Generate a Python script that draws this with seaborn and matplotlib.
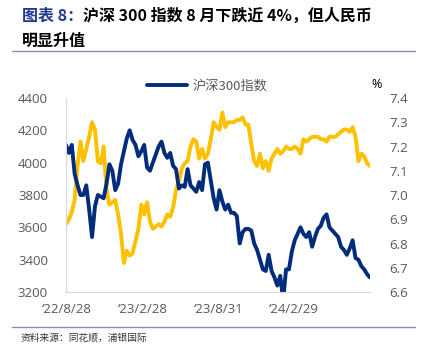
import numpy as np
import pandas as pd
import matplotlib
matplotlib.use('Agg')
import matplotlib.pyplot as plt
import matplotlib.dates as mdates
from matplotlib.lines import Line2D
import seaborn as sns

# weekly closes (Fridays)
start_date = '2022-08-26'
end_date = '2024-08-30'

csi300 = [
    # 2022
    4110, 4060, 4110, 3930, 3860, 3800, 3800, 3860, 3710, 3540,
    3730, 3800, 3790, 3780, 3870, 3990, 3950, 3830, 3870,
    # 2023
    3990, 4070, 4150, 4200, 4140, 4110, 4040, 4070, 4110, 3970,
    3950, 4000, 4050, 4100, 4130, 4060, 4030, 4060, 3980, 3960,
    3840, 3860, 3850, 3960, 3860, 3840, 3820, 3880, 3830, 3990,
    4000, 3890, 3780, 3710, 3830, 3760, 3710, 3740, 3690, 3690,
    3670, 3500, 3570, 3590, 3590, 3580, 3500, 3460, 3400, 3340,
    3330, 3430,
    # 2024
    3330, 3290, 3240, 3300, 3150, 3340, 3340, 3450, 3520, 3560,
    3600, 3560, 3540, 3570, 3480, 3540, 3590, 3610, 3660, 3680,
    3600, 3580, 3560, 3540, 3480, 3460, 3430, 3470, 3520, 3410,
    3400, 3360, 3340, 3310, 3290,
]

usdcny = [
    # 2022
    6.88, 6.90, 6.93, 6.98, 7.12, 7.22, 7.14, 7.19, 7.24, 7.30,
    7.27, 7.14, 7.13, 7.20, 7.02, 6.96, 6.97, 6.98, 6.92,
    # 2023
    6.84, 6.72, 6.77, 6.75, 6.76, 6.81, 6.86, 6.96, 6.92, 6.97,
    6.89, 6.86, 6.87, 6.88, 6.87, 6.89, 6.92, 6.91, 6.95, 7.02,
    7.06, 7.11, 7.13, 7.14, 7.20, 7.23, 7.22, 7.15, 7.19, 7.15,
    7.17, 7.23, 7.30, 7.28, 7.27, 7.34, 7.28, 7.30, 7.30, 7.30,
    7.31, 7.31, 7.32, 7.29, 7.29, 7.21, 7.14, 7.12, 7.17, 7.11,
    7.14, 7.10,
    # 2024
    7.15, 7.17, 7.19, 7.17, 7.18, 7.20, 7.19, 7.19, 7.20, 7.19,
    7.17, 7.23, 7.22, 7.23, 7.24, 7.24, 7.24, 7.23, 7.23, 7.22,
    7.24, 7.24, 7.24, 7.25, 7.26, 7.27, 7.27, 7.26, 7.28, 7.24,
    7.14, 7.17, 7.16, 7.13, 7.12,
]

tick_dates = ['2022-08-28', '2023-02-28', '2023-08-31', '2024-02-29']
tick_labels = ['\u201822/8/28', '\u201823/2/28', '\u201823/8/31', '\u201824/2/29']

left_ticks = [3200, 3400, 3600, 3800, 4000, 4200, 4400]
right_ticks = [6.6, 6.7, 6.8, 6.9, 7.0, 7.1, 7.2, 7.3, 7.4]

NAVY = '#002C7C'
GOLD = '#FFC000'
GREY = '#595959'
RULE = '#8C8CBA'
LW = 2.8

dates = pd.date_range(start_date, end_date, freq='W-FRI')
df = pd.DataFrame({'date': dates, 'csi300': csi300, 'usdcny': usdcny})

sns.set_style('white')
plt.rcParams['font.family'] = ['Noto Sans CJK SC', 'DejaVu Sans']

fig = plt.figure(figsize=(4.23, 3.57), dpi=100)
ax = fig.add_axes([66 / 423, 1 - 292 / 357, (370 - 66) / 423, (292 - 98) / 357])
ax2 = ax.twinx()

sns.lineplot(data=df, x='date', y='usdcny', ax=ax2, color=GOLD, linewidth=LW)
sns.lineplot(data=df, x='date', y='csi300', ax=ax, color=NAVY, linewidth=LW)
ax.set_zorder(ax2.get_zorder() + 1)
ax.patch.set_visible(False)

ax.set_ylim(3200, 4400)
ax2.set_ylim(6.6, 7.4)
ax.set_xlim(pd.Timestamp(start_date), pd.Timestamp(end_date))
ax.set_yticks(left_ticks)
ax2.set_yticks(right_ticks)
ax2.set_yticklabels([f'{v:.1f}' for v in right_ticks])
ax.set_xticks(pd.to_datetime(tick_dates))
ax.set_xticklabels(tick_labels)
ax.set_xlabel('')
ax.set_ylabel('')
ax2.set_ylabel('')

for a in (ax, ax2):
    for s in a.spines.values():
        s.set_visible(False)
ax.spines['left'].set_visible(True)
ax.spines['bottom'].set_visible(True)
ax.spines['left'].set_color('#D9D9D9')
ax.spines['bottom'].set_color('#D9D9D9')

tick_font = {'family': ['Open Sans', 'DejaVu Sans'], 'size': 9.5}
ax.tick_params(axis='y', length=0, pad=13, labelcolor=GREY)
ax.tick_params(axis='x', length=0, pad=8, labelcolor=GREY)
ax2.tick_params(axis='y', length=0, pad=14, labelcolor=GREY)
for lab in ax.get_xticklabels() + ax.get_yticklabels() + ax2.get_yticklabels():
    lab.set_fontfamily(tick_font['family'])
    lab.set_fontsize(tick_font['size'])

# legend (only the index entry is shown in the source)
handle = Line2D([], [], color=NAVY, linewidth=LW)
fig.legend([handle], ['沪深300指数'], loc='center', bbox_to_anchor=(0.49, 0.759),
           frameon=False, handlelength=3.0, handletextpad=0.4,
           prop={'family': ['Noto Sans CJK SC'], 'size': 9.5}, labelcolor=GREY)
fig.text(377 / 423, 1 - 84 / 357, '%', ha='center', va='center', fontsize=9,
         family=['Open Sans', 'DejaVu Sans'], color='black')

# title
t1 = fig.text(22 / 423, 1 - 16 / 357, '图表 8：', ha='left', va='center',
              fontsize=11.5, fontweight='bold', color='#1F3A8F')
fig.canvas.draw()
bb = t1.get_window_extent()
fig.text(bb.x1 / 423, 1 - 16 / 357, '沪深 300 指数 8 月下跌近 4%，但人民币', ha='left', va='center',
         fontsize=11.5, fontweight='bold', color='black')
fig.text(22 / 423, 1 - 41 / 357, '明显升值', ha='left', va='center',
         fontsize=11.5, fontweight='bold', color='black')

fig.add_artist(Line2D([12 / 423, 415 / 423], [1 - 51 / 357, 1 - 51 / 357],
                      color=RULE, linewidth=1.0, transform=fig.transFigure))
fig.add_artist(Line2D([12 / 423, 415 / 423], [1 - 327 / 357, 1 - 327 / 357],
                      color=RULE, linewidth=1.0, transform=fig.transFigure))
fig.text(21 / 423, 1 - 338 / 357, '资料来源：同花顺，浦银国际', ha='left', va='center',
         fontsize=7, color='#333333')

fig.savefig('out.png', dpi=100)
